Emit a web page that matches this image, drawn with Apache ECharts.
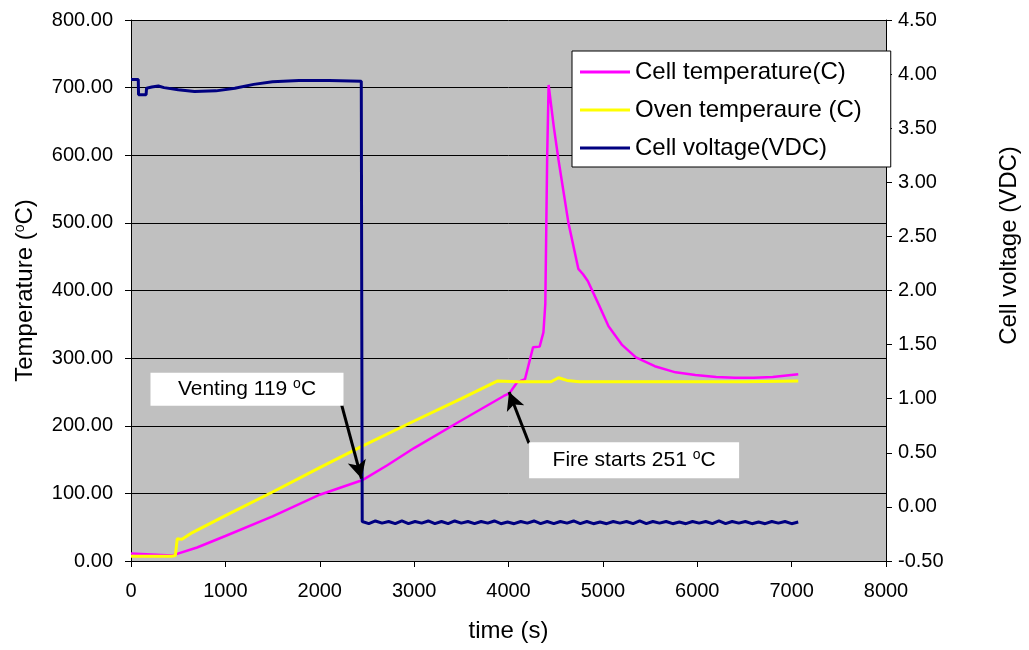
<!DOCTYPE html>
<html>
<head>
<meta charset="utf-8">
<title>Cell temperature, oven temperature and cell voltage</title>
<script src="https://cdn.jsdelivr.net/npm/echarts@6/dist/echarts.min.js"></script>
<style>
  html, body { margin: 0; padding: 0; background: #fff; }
  #chart { width: 1029px; height: 650px; }
</style>
</head>
<body>
<div id="chart"></div>
<script>
// readings [time (s), value] taken off the plot
const cellTemp = [
  [0, 11], [430, 8], [700, 20], [1000, 37], [1500, 66], [2000, 98], [2440, 119],
  [2470, 121], [2720, 142], [3000, 167], [3490, 207], [3950, 244], [4010, 248],
  [4090, 264], [4175, 269], [4260, 316], [4330, 317], [4370, 338], [4390, 380],
  [4410, 600], [4425, 704], [4480, 642], [4530, 593], [4635, 500], [4740, 432],
  [4790, 424], [4840, 414], [4880, 402], [4960, 378], [5060, 347], [5200, 320],
  [5350, 301], [5550, 288], [5770, 279], [5980, 275], [6200, 272], [6400, 271],
  [6600, 271], [6800, 272], [7070, 276]
]
const ovenTemp = [
  [0, 7], [430, 7], [470, 8], [490, 33], [540, 32], [650, 42], [1000, 67],
  [1500, 102], [2000, 138], [2440, 169], [3000, 207], [3500, 240], [3880, 266],
  [4100, 265], [4450, 265], [4530, 271], [4620, 267], [4750, 265], [5500, 265],
  [6500, 265], [7070, 266]
]
const voltageBefore = [
  [0, 3.95], [77, 3.95], [80, 3.81], [160, 3.81], [165, 3.87], [220, 3.88],
  [290, 3.89], [350, 3.875], [500, 3.855], [673, 3.84], [900, 3.845], [1100, 3.87],
  [1300, 3.905], [1500, 3.93], [1780, 3.94], [2100, 3.94], [2440, 3.935]
]
// after venting the voltage sits near -0.14 V with some noise, sampled every 70 s
const noiseStart = 2450
const noiseStep = 70
const voltageAfter = [
  -0.135, -0.155, -0.13, -0.15, -0.135, -0.155, -0.13, -0.155, -0.135, -0.15,
  -0.13, -0.155, -0.135, -0.155, -0.13, -0.15, -0.135, -0.155, -0.135, -0.15,
  -0.13, -0.155, -0.14, -0.155, -0.135, -0.15, -0.13, -0.155, -0.135, -0.155,
  -0.135, -0.15, -0.13, -0.155, -0.135, -0.155, -0.14, -0.155, -0.135, -0.15,
  -0.135, -0.155, -0.13, -0.155, -0.135, -0.15, -0.135, -0.155, -0.14, -0.155,
  -0.135, -0.15, -0.135, -0.155, -0.13, -0.155, -0.135, -0.15, -0.135, -0.155,
  -0.14, -0.155, -0.135, -0.15, -0.135, -0.155, -0.14
]
const seriesNames = ['Cell temperature(C)', 'Oven temperaure (C)', 'Cell voltage(VDC)']

const FONT = 'Arial, "Liberation Sans", sans-serif'

const voltage = voltageBefore.slice()
voltageAfter.forEach((v, i) => {
  voltage.push([noiseStart + i * noiseStep, v])
})

const chart = echarts.init(document.getElementById('chart'))
const sup = { fontSize: 14, verticalAlign: 'top', fontFamily: FONT, color: '#000' }

chart.setOption({
  animation: false,
  backgroundColor: '#fff',
  textStyle: { fontFamily: FONT },
  grid: {
    left: 131,
    right: 136,
    top: 20,
    bottom: 89,
    show: true,
    backgroundColor: '#c0c0c0',
    borderWidth: 0
  },
  legend: {
    data: seriesNames,
    orient: 'vertical',
    left: 572,
    top: 51,
    padding: [8, 29, 6, 8],
    itemWidth: 50,
    itemHeight: 3,
    itemGap: 12,
    icon: 'rect',
    backgroundColor: '#fff',
    borderColor: '#000',
    borderWidth: 1,
    textStyle: { fontSize: 24, lineHeight: 26, color: '#000', fontFamily: FONT }
  },
  xAxis: {
    type: 'value',
    min: 0,
    max: 8000,
    interval: 1000,
    name: 'time (s)',
    nameLocation: 'middle',
    nameGap: 58,
    nameTextStyle: { fontSize: 24, color: '#000', fontFamily: FONT },
    axisLine: { lineStyle: { color: '#000', width: 1 } },
    axisTick: { length: 6, lineStyle: { color: '#000' } },
    axisLabel: {
      fontSize: 20,
      color: '#000',
      margin: 20,
      fontFamily: FONT,
      formatter: v => String(v)
    },
    splitLine: { show: false }
  },
  yAxis: [
    {
      type: 'value',
      min: 0,
      max: 800,
      interval: 100,
      name: 'Temperature ({sup|o}C)',
      nameLocation: 'middle',
      nameRotate: 90,
      nameGap: 94,
      nameTextStyle: { fontSize: 24, color: '#000', fontFamily: FONT, rich: { sup: sup } },
      axisLine: { show: true, lineStyle: { color: '#000' } },
      axisTick: { show: true, length: 6, lineStyle: { color: '#000' } },
      axisLabel: {
        fontSize: 20,
        color: '#000',
        margin: 18,
        fontFamily: FONT,
        formatter: v => v.toFixed(2)
      },
      splitLine: { show: true, lineStyle: { color: '#000', width: 1 } }
    },
    {
      type: 'value',
      position: 'right',
      min: -0.5,
      max: 4.5,
      interval: 0.5,
      name: 'Cell voltage (VDC)',
      nameLocation: 'middle',
      nameRotate: 90,
      nameGap: 111,
      nameTextStyle: { fontSize: 24, color: '#000', fontFamily: FONT, padding: [0, 0, 0, 90] },
      axisLine: { show: true, lineStyle: { color: '#000' } },
      axisTick: { show: true, length: 6, lineStyle: { color: '#000' } },
      axisLabel: {
        fontSize: 20,
        color: '#000',
        margin: 12,
        fontFamily: FONT,
        formatter: v => v.toFixed(2)
      },
      splitLine: { show: false }
    }
  ],
  series: [
    {
      name: seriesNames[0],
      type: 'line',
      yAxisIndex: 0,
      data: cellTemp,
      showSymbol: false,
      color: '#ff00ff',
      lineStyle: { color: '#ff00ff', width: 2.5 }
    },
    {
      name: seriesNames[1],
      type: 'line',
      yAxisIndex: 0,
      data: ovenTemp,
      showSymbol: false,
      color: '#ffff00',
      lineStyle: { color: '#ffff00', width: 3 }
    },
    {
      name: seriesNames[2],
      type: 'line',
      yAxisIndex: 1,
      data: voltage,
      showSymbol: false,
      color: '#000080',
      lineStyle: { color: '#000080', width: 3 }
    },
    {
      // annotations: arrows and text boxes, in temperature/time coordinates
      name: 'notes',
      type: 'line',
      yAxisIndex: 0,
      data: [],
      z: 5,
      silent: true,
      markLine: {
        silent: true,
        symbol: ['none', 'arrow'],
        symbolSize: [14, 18],
        label: { show: false },
        lineStyle: { color: '#000', width: 3, type: 'solid' },
        data: [
          [{ coord: [2232, 231] }, { coord: [2442, 122] }],
          [{ coord: [4217, 174] }, { coord: [4006, 250] }]
        ]
      },
      markPoint: {
        silent: true,
        symbol: 'rect',
        itemStyle: { color: '#fff' },
        label: {
          show: true,
          position: 'inside',
          color: '#000',
          fontSize: 21,
          lineHeight: 24,
          fontFamily: FONT,
          rich: { sup: sup }
        },
        data: [
          {
            coord: [1229, 254],
            symbolSize: [193, 33],
            label: { formatter: 'Venting 119 {sup|o}C' }
          },
          {
            coord: [5331, 149],
            symbolSize: [210, 36],
            label: { formatter: 'Fire starts 251 {sup|o}C' }
          }
        ]
      }
    }
  ]
})
</script>
</body>
</html>
